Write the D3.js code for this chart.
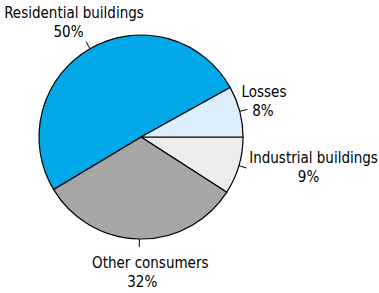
<!DOCTYPE html>
<html>
<head>
<meta charset="utf-8">
<script src="https://cdn.jsdelivr.net/npm/d3@7"></script>
<style>
  body { margin: 0; background: #fff; }
  text { font-family: "DejaVu Sans Condensed", "DejaVu Sans", sans-serif; font-stretch: condensed; font-size: 15px; fill: #000; }
</style>
</head>
<body>
<div id="chart"></div>
<script>
// slices in drawing order, clockwise from 3 o'clock
var categories = ["Industrial buildings", "Other consumers", "Residential buildings", "Losses"];
var shares = [9, 32, 50, 8];
var colors = ["#ececec", "#a6a6a6", "#00a8e8", "#dceefb"];

var width = 379,
    height = 293,
    cx = 141,
    cy = 137,
    radius = 102,
    tickLen = 8,
    lineGap = 19;

// label placement relative to the outer end of each leader tick
// dx/dy: name line, pdx: percent line
var labelOffsets = [
  {dx: 67, dy: -5, pdx: 62},
  {dx: 11, dy: 21.5, pdx: 3},
  {dx: -12, dy: -24, pdx: -17.5},
  {dx: 16.5, dy: -12.7, pdx: 15.5}
];

var svg = d3.select("#chart")
  .append("svg")
  .attr("width", width)
  .attr("height", height);

var g = svg.append("g")
  .attr("transform", `translate(${cx},${cy})`);

var pie = d3.pie()
  .sort(null)
  .value(d => d.value)
  .startAngle(Math.PI / 2)
  .endAngle(Math.PI / 2 + 2 * Math.PI);

var data = categories.map((c, i) => ({name: c, value: shares[i], color: colors[i], off: labelOffsets[i]}));
var arcs = pie(data);

var arc = d3.arc().innerRadius(0).outerRadius(radius);

g.selectAll("path.slice")
  .data(arcs)
  .enter().append("path")
  .attr("class", "slice")
  .attr("d", arc)
  .style("fill", d => d.data.color)
  .style("stroke", "#000")
  .style("stroke-width", 1.2)
  .style("stroke-linejoin", "round");

function pointAt(a, r) {
  return [Math.sin(a) * r, -Math.cos(a) * r];
}
function midAngle(d) {
  return (d.startAngle + d.endAngle) / 2;
}

// leader ticks
g.selectAll("line.tick")
  .data(arcs)
  .enter().append("line")
  .attr("class", "tick")
  .attr("x1", d => pointAt(midAngle(d), radius)[0])
  .attr("y1", d => pointAt(midAngle(d), radius)[1])
  .attr("x2", d => pointAt(midAngle(d), radius + tickLen)[0])
  .attr("y2", d => pointAt(midAngle(d), radius + tickLen)[1])
  .style("stroke", "#000")
  .style("stroke-width", 1);

var labels = g.selectAll("text.label")
  .data(arcs)
  .enter().append("text")
  .attr("class", "label")
  .attr("text-anchor", "middle")
  .attr("transform", d => {
    var p = pointAt(midAngle(d), radius + tickLen);
    return `translate(${p[0]},${p[1] + d.data.off.dy})`;
  });

labels.append("tspan")
  .attr("x", d => d.data.off.dx)
  .attr("y", 0)
  .text(d => d.data.name);

labels.append("tspan")
  .attr("x", d => d.data.off.pdx)
  .attr("y", lineGap)
  .text(d => d.data.value + "%");
</script>
</body>
</html>
